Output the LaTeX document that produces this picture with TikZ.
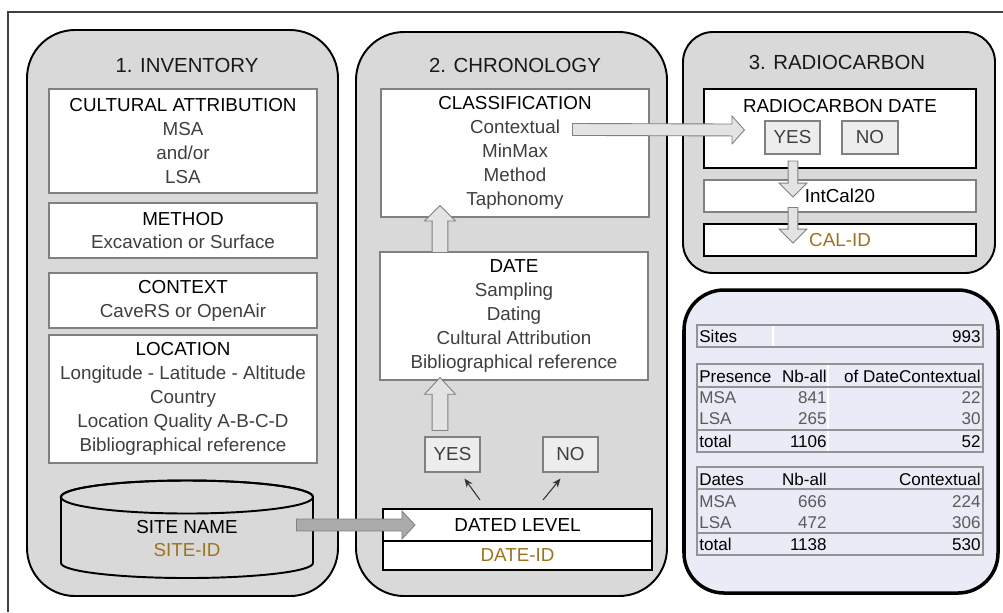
\documentclass[tikz,border=0pt]{standalone}
\usepackage{fontspec}
\setmainfont{Liberation Sans}
\usetikzlibrary{calc,positioning,arrows.meta}

\definecolor{panelgray}{HTML}{D9D9D9}
\definecolor{boxline}{HTML}{808080}
\definecolor{txtgray}{HTML}{3F3F3F}
\definecolor{idbrown}{HTML}{9C7420}
\definecolor{yngray}{HTML}{EDEDED}
\definecolor{arrowlight}{HTML}{E3E3E3}
\definecolor{arrowdark}{HTML}{ABABAB}
\definecolor{tabfill}{HTML}{E9EBF6}
\definecolor{tabgray}{HTML}{5A5A5A}
\newcommand{\boxhead}[1]{\textcolor{black}{#1}}

\begin{document}
\begin{tikzpicture}[x=0.2mm,y=-0.2mm,
    panel/.style={draw=black,line width=1.1pt,fill=panelgray,rounded corners=9.6mm},
    title/.style={font=\fontsize{11.6}{14}\selectfont,text=black!90},
    box/.style={draw=boxline,line width=0.6pt,fill=white,text=txtgray,align=center,
      inner sep=1pt,font=\fontsize{10.7}{13.6}\selectfont},
    idbox/.style={box,draw=black,line width=1.2pt,outer sep=0pt},
    yn/.style={box,fill=yngray,minimum width=11mm,minimum height=7mm},
    barrow/.style n args={3}{draw=boxline,line width=0.5pt,
      to path={let \p1=(\tikztostart), \p2=(\tikztotarget),
        \n1={veclen(\x2-\x1,\y2-\y1)}, \n2={(\x2-\x1)/\n1}, \n3={(\y2-\y1)/\n1} in
        ({\x1-#1*\n3},{\y1+#1*\n2}) -- ({\x2-#3*\n2-#1*\n3},{\y2-#3*\n3+#1*\n2})
        -- ({\x2-#3*\n2-#2*\n3},{\y2-#3*\n3+#2*\n2}) -- (\x2,\y2)
        -- ({\x2-#3*\n2+#2*\n3},{\y2-#3*\n3-#2*\n2}) -- ({\x2-#3*\n2+#1*\n3},{\y2-#3*\n3-#1*\n2})
        -- ({\x1+#1*\n3},{\y1-#1*\n2}) -- cycle}},
    thinarrow/.style={black!80,line width=0.6pt,-{Stealth[length=5pt,width=4pt]}},
    tabtxt/.style={font=\fontsize{9.7}{12}\selectfont,inner sep=0pt},
    tabline/.style={draw=gray!85,line width=0.6pt}]
  \useasboundingbox (0,0) rectangle (1003,612);
  \draw[black!75,line width=0.6pt] (8,612) -- (8,12) -- (1003,12);

  % panels
  \node[panel,minimum width=62.2mm,minimum height=113.2mm] (inv) at (182.5,313) {};
  \node[panel,minimum width=62.2mm,minimum height=112.8mm] (chr) at (511.5,314) {};
  \node[panel,rounded corners=6mm,minimum width=62.4mm,minimum height=48.2mm] (rad) at (839,152.5) {};
  \node[panel,fill=tabfill,line width=2pt,rounded corners=8mm,minimum width=62.8mm,minimum height=60.6mm] (stats) at (841,441.5) {};
  \node[title] (invt) at (187,65) {1. INVENTORY};
  \node[title] (chrt) at (515,65) {2. CHRONOLOGY};
  \node[title] (radt) at (837,62) {3. RADIOCARBON};

  % 1. inventory
  \node[box,minimum width=53.6mm,minimum height=20.8mm] (cult) at (183,141)
    {\boxhead{CULTURAL ATTRIBUTION}\\MSA\\and/or\\LSA};
  \node[box,minimum width=53.6mm,minimum height=11mm] (meth) at (183,230.5)
    {\boxhead{METHOD}\\Excavation or Surface};
  \node[box,minimum width=53.6mm,minimum height=11mm] (ctx) at (183,300.5)
    {\boxhead{CONTEXT}\\CaveRS or OpenAir};
  \node[box,minimum width=53.6mm,minimum height=25.6mm] (loc) at (183,399)
    {\boxhead{LOCATION}\\Longitude - Latitude - Altitude\\Country\\Location Quality A-B-C-D\\Bibliographical reference};
  \draw[line width=1.1pt,fill=panelgray] (61,497) -- (61,563)
    arc[start angle=180,end angle=360,x radius=25.2mm,y radius=3mm] -- (313,497)
    arc[start angle=0,end angle=180,x radius=25.2mm,y radius=3.3mm] -- cycle;
  \draw[line width=1.1pt] (187,497) ellipse [x radius=25.2mm,y radius=3.3mm];
  \node[box,draw=none,fill=none,minimum width=50.4mm] (site) at (187,538.5)
    {\boxhead{SITE NAME}\\\textcolor{idbrown}{SITE-ID}};

  % 2. chronology
  \node[box,minimum width=53.6mm,minimum height=25.6mm] (class) at (515,153)
    {\boxhead{CLASSIFICATION}\\Contextual\\MinMax\\Method\\Taphonomy};
  \node[box,minimum width=53.6mm,minimum height=25.6mm] (date) at (514,316)
    {\boxhead{DATE}\\Sampling\\Dating\\Cultural Attribution\\Bibliographical reference};
  \node[yn] (yes) at (452.5,454.5) {YES};
  \node[yn] (no) at (570.5,454.5) {NO};
  \node[idbox,minimum width=53.8mm,minimum height=6.4mm,text=black] (dated) at (517.5,525) {DATED LEVEL};
  \node[idbox,minimum width=53.8mm,minimum height=5.8mm,text=idbrown,below=0pt of dated] (dateid) {DATE-ID};

  % 3. radiocarbon
  \node[idbox,minimum width=54.4mm,minimum height=15.8mm] (rcdate) at (840,128.5) {};
  \node[box,draw=none,fill=none,text=black] (rct) at (840,106) {RADIOCARBON DATE};
  \node[yn,minimum height=6.6mm] (yes2) at (792.5,137.5) {YES};
  \node[yn,minimum width=11.2mm,minimum height=6.6mm] (no2) at (870,137.5) {NO};
  \node[box,minimum width=54.4mm,minimum height=6.4mm,text=black] (intcal) at (840,196) {IntCal20};
  \node[idbox,minimum width=54.4mm,minimum height=6.4mm,text=idbrown] (calid) at (840,240) {CAL-ID};

  % arrows
  \draw[barrow={3.4}{7.9}{7.4},fill=arrowdark] ([shift={(-17,-13.5)}]site.east) to ([shift={(32,0)}]dated.west);
  \draw[barrow={3.4}{7.9}{7.1},fill=arrowlight] ([shift={(-77,41)}]class.north east) to ([shift={(-20,-7.5)}]yes2.west);
  \draw[barrow={4.5}{8.8}{8.8},fill=arrowlight] ([shift={(-74,1)}]date.north) to ([shift={(-75,-12)}]class.south);
  \draw[barrow={4.5}{8.8}{9.5},fill=arrowlight] ([shift={(-12.5,-6)}]yes.north) to ([shift={(-74,-3)}]date.south);
  \draw[barrow={2.8}{7.9}{7.9},fill=arrowlight] ([shift={(-47,-7)}]rcdate.south) to ([shift={(-47,1)}]intcal.center);
  \draw[barrow={2.8}{7.9}{7.9},fill=arrowlight] ([shift={(-47,-5)}]intcal.south) to ([shift={(-47,3)}]calid.center);
  \draw[thinarrow] ([shift={(97,-9)}]dated.north west) -- ([shift={(12,6)}]yes.south);
  \draw[thinarrow] ([shift={(-109,-9)}]dated.north east) -- ([shift={(-10,6)}]no.south);

  % tables
  \draw[tabline] (697,325) rectangle (983,347);
  \draw[white,line width=0.8pt] (773,326) -- (773,346);
  \node[tabtxt,anchor=base west] (sites) at (699,342) {Sites};
  \node[tabtxt,anchor=base east] (nsites) at (981,342) {993};

  \draw[tabline] (697,364) rectangle (983,452);
  \draw[white,line width=0.8pt] (828,365) -- (828,451);
  \draw[tabline] (697,387) -- (983,387);
  \draw[tabline] (697,430) -- (983,430);
  \foreach \y/\a/\b/\c/\t in {376/Presence/Nb-all/of DateContextual/black,397/MSA/841/22/tabgray,
      418/LSA/265/30/tabgray,441/total/1106/52/black}{
    \node[tabtxt,text=\t,anchor=base west] (pa\y) at (699,\y+6) {\a};
    \node[tabtxt,text=\t,anchor=base east] (pb\y) at (827,\y+6) {\b};
    \node[tabtxt,text=\t,anchor=base east] (pc\y) at (981,\y+6) {\c};
  }

  \draw[tabline] (697,467) rectangle (983,555);
  \draw[tabline] (697,489) -- (983,489);
  \draw[tabline] (697,533) -- (983,533);
  \foreach \y/\a/\b/\c/\t in {479/Dates/Nb-all/Contextual/black,501/MSA/666/224/tabgray,
      522/LSA/472/306/tabgray,544/total/1138/530/black}{
    \node[tabtxt,text=\t,anchor=base west] (da\y) at (699,\y+6) {\a};
    \node[tabtxt,text=\t,anchor=base east] (db\y) at (827,\y+6) {\b};
    \node[tabtxt,text=\t,anchor=base east] (dc\y) at (981,\y+6) {\c};
  }
\end{tikzpicture}
\end{document}
